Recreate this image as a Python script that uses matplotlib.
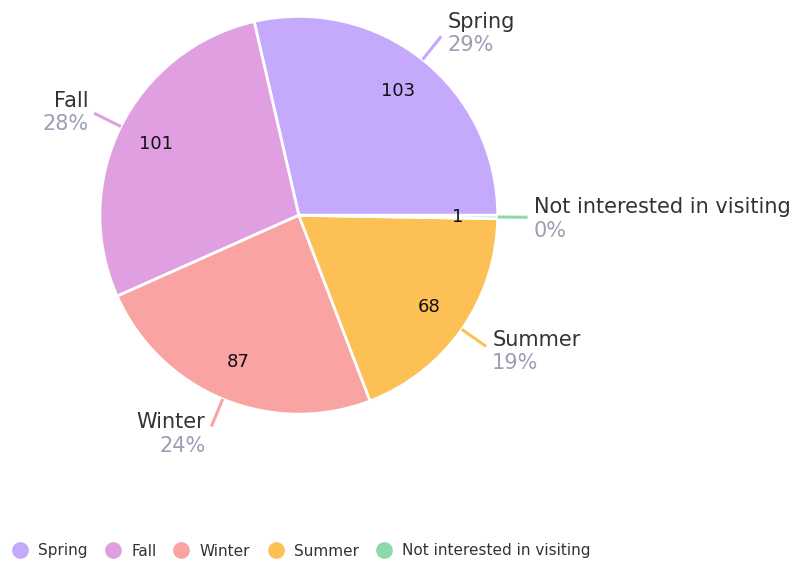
import numpy as np
import matplotlib
matplotlib.use("Agg")
import matplotlib.pyplot as plt
from matplotlib.lines import Line2D

categories = ["Spring", "Fall", "Winter", "Summer", "Not interested in visiting"]
values = [103, 101, 87, 68, 1]
colors = ["#c4a9fc", "#e09fe0", "#f9a3a3", "#fdc055", "#8ed8ae"]

plt.rcParams['font.family'] = ['DejaVu Sans']

fig = plt.figure(figsize=(7.99, 5.65), dpi=100)
ax = fig.add_axes([0.125, 0.267, 0.498, 0.704])

total = sum(values)
wedges, _, autotexts = ax.pie(values, colors=colors, startangle=0, counterclock=True,
                              radius=1.0, autopct=lambda p: f"{p*total/100:.0f}",
                              pctdistance=0.8,
                              wedgeprops=dict(edgecolor='white', linewidth=2))
ax.set_xlim(-1, 1)
ax.set_ylim(-1, 1)
ax.set_aspect('equal')
ax.axis('off')
for t in autotexts:
    t.set_fontsize(13)
    t.set_color('#111111')

px = 1 / 199.0
for w, name, val, col in zip(wedges, categories, values, colors):
    theta = np.deg2rad((w.theta1 + w.theta2) / 2)
    x0, y0 = np.cos(theta), np.sin(theta)
    x1, y1 = 1.15 * x0, 1.15 * y0
    ax.plot([x0, x1], [y0, y1], color=col, lw=2.2, clip_on=False, solid_capstyle='butt')
    right = x0 >= 0
    ha = 'left' if right else 'right'
    tx = x1 + (6 * px if right else -6 * px)
    bc = y1 + 6 * np.sin(theta) * px
    ax.text(tx, bc + (12 - 8) * px, name, ha=ha, va='baseline', fontsize=15,
            color='#333333', clip_on=False)
    ax.text(tx, bc + (-12 - 7.5) * px, f"{val/total*100:.0f}%", ha=ha, va='baseline',
            fontsize=15, color='#9d9db5', clip_on=False)

handles = [Line2D([0], [0], marker='o', linestyle='', markersize=11, markerfacecolor=c,
                  markeredgecolor=c) for c in colors]
fig.legend(handles, categories, loc='center left',
           bbox_to_anchor=(12 / 799, 1 - 551 / 565), ncol=5,
           frameon=False, fontsize=11, handlelength=1.0, handletextpad=0.7,
           columnspacing=1.15, borderpad=0, borderaxespad=0,
           labelcolor='#333333')

fig.savefig("out.png", dpi=100)
